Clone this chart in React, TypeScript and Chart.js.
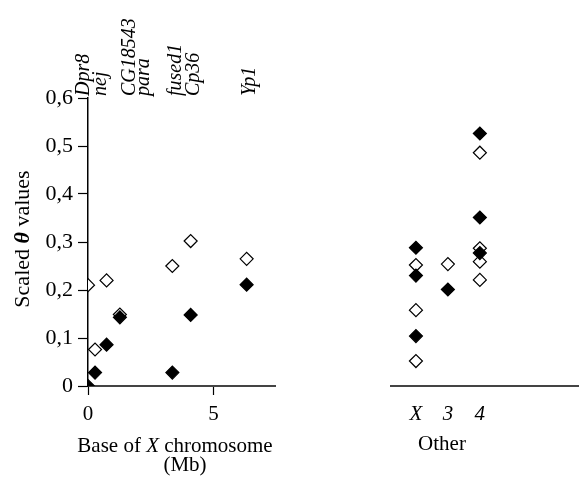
import React, { useEffect, useRef } from "react";
import { Chart, registerables } from "chart.js";

Chart.register(...registerables);

const FONT = "'Liberation Serif', 'Times New Roman', serif";
const W = 586;
const H = 477;

// ---- Left panel: base of X chromosome (Mb) ----
const basePositions = [0, 0.28, 0.74, 1.27, 3.36, 4.09, 6.32];
const baseOpen = [0.21, 0.076, 0.22, 0.149, 0.25, 0.302, 0.265];
const baseFilled = [0, 0.028, 0.086, 0.143, 0.028, 0.148, 0.211];

const geneNames = ["Dpr8", "nej", "CG18543", "para", "fused1", "Cp36", "Yp1"];
const geneLabelPos = [0.03, 0.72, 1.86, 2.42, 3.72, 4.42, 6.64];

const baseTicks = [0, 5];
const yTicks = [0, 0.1, 0.2, 0.3, 0.4, 0.5, 0.6];

// ---- Right panel: other chromosomes ----
const otherCategories = ["X", "3", "4"];
const otherOpen = [
  [0.252, 0.158, 0.052],
  [0.254],
  [0.486, 0.287, 0.259, 0.221],
];
const otherFilled = [
  [0.288, 0.23, 0.104],
  [0.201],
  [0.526, 0.351, 0.277],
];

const fmtY = (v: number) => (v === 0 ? "0" : v.toFixed(1).replace(".", ","));

type Part = { t: string; font: string };

function drawRich(ctx: CanvasRenderingContext2D, parts: Part[], cx: number, cy: number) {
  let total = 0;
  const widths = parts.map((p) => {
    ctx.font = p.font;
    const w = ctx.measureText(p.t).width;
    total += w;
    return w;
  });
  let x = cx - total / 2;
  ctx.textAlign = "left";
  ctx.textBaseline = "alphabetic";
  parts.forEach((p, i) => {
    ctx.font = p.font;
    ctx.fillText(p.t, x, cy);
    x += widths[i];
  });
}

const reg = (s: number) => `${s}px ${FONT}`;
const ita = (s: number) => `italic ${s}px ${FONT}`;
const bita = (s: number) => `italic bold ${s}px ${FONT}`;

const leftTextPlugin = {
  id: "leftText",
  afterDraw(chart: any) {
    const ctx: CanvasRenderingContext2D = chart.ctx;
    const xs = chart.scales.x;
    ctx.save();
    ctx.fillStyle = "#000";
    // y title
    ctx.save();
    ctx.translate(29, 239);
    ctx.rotate(-Math.PI / 2);
    drawRich(
      ctx,
      [
        { t: "Scaled ", font: reg(22) },
        { t: "\u03b8", font: bita(22) },
        { t: " values", font: reg(22) },
      ],
      0,
      0
    );
    ctx.restore();
    // x title
    const cx = 175;
    drawRich(
      ctx,
      [
        { t: "Base of ", font: reg(21) },
        { t: "X", font: ita(21) },
        { t: " chromosome", font: reg(21) },
      ],
      cx,
      452
    );
    drawRich(ctx, [{ t: "(Mb)", font: reg(21) }], 185, 471);
    // gene labels
    ctx.font = ita(20);
    ctx.textAlign = "left";
    ctx.textBaseline = "alphabetic";
    geneNames.forEach((g, i) => {
      const px = xs.getPixelForValue(geneLabelPos[i]);
      ctx.save();
      ctx.translate(px, 96);
      ctx.rotate(-Math.PI / 2);
      ctx.fillText(g, 0, 0);
      ctx.restore();
    });
    ctx.restore();
  },
};

const rightTextPlugin = {
  id: "rightText",
  afterDraw(chart: any) {
    const ctx: CanvasRenderingContext2D = chart.ctx;
    ctx.save();
    ctx.fillStyle = "#000";
    drawRich(ctx, [{ t: "Other", font: reg(21) }], 442, 450);
    ctx.restore();
  },
};

const filledStyle = {
  pointStyle: "rectRot",
  pointRadius: 6.5,
  backgroundColor: "#000",
  borderColor: "#000",
  borderWidth: 1.2,
};
const openStyle = {
  pointStyle: "rectRot",
  pointRadius: 6.5,
  backgroundColor: "#fff",
  borderColor: "#000",
  borderWidth: 1.2,
};

export default function App() {
  const leftRef = useRef<HTMLCanvasElement>(null);
  const rightRef = useRef<HTMLCanvasElement>(null);

  useEffect(() => {
    const left = new Chart(leftRef.current as HTMLCanvasElement, {
      type: "scatter",
      data: {
        datasets: [
          {
            label: "filled",
            data: basePositions.map((x, i) => ({ x, y: baseFilled[i] })),
            ...filledStyle,
          } as any,
          {
            label: "open",
            data: basePositions.map((x, i) => ({ x, y: baseOpen[i] })),
            ...openStyle,
          } as any,
        ],
      },
      options: {
        responsive: false,
        animation: false,
        layout: { padding: { top: 98, right: W - 275, left: 0, bottom: 0 } },
        plugins: { legend: { display: false }, tooltip: { enabled: false } },
        scales: {
          x: {
            type: "linear",
            min: 0,
            max: 7.45,
            afterBuildTicks: (s: any) => {
              s.ticks = baseTicks.map((v) => ({ value: v }));
            },
            afterFit: (s: any) => {
              s.height = H - 386;
            },
            ticks: {
              font: { family: FONT, size: 21 },
              color: "#000",
              padding: 7,
              maxRotation: 0,
            },
            grid: {
              drawOnChartArea: false,
              tickLength: 9,
              tickColor: "#000",
              tickWidth: 1.2,
            },
            border: { color: "#444", width: 2 },
          },
          y: {
            type: "linear",
            min: 0,
            max: 0.6,
            afterBuildTicks: (s: any) => {
              s.ticks = yTicks.map((v) => ({ value: v }));
            },
            afterFit: (s: any) => {
              s.width = 88;
            },
            ticks: {
              font: { family: FONT, size: 22 },
              color: "#000",
              padding: 5,
              callback: (v: any) => fmtY(Number(v)),
            },
            grid: {
              drawOnChartArea: false,
              tickLength: 10,
              tickColor: "#000",
              tickWidth: 1.2,
            },
            border: { color: "#000", width: 1.5 },
          },
        },
      },
      plugins: [leftTextPlugin],
    } as any);

    const oFilled: { x: number; y: number }[] = [];
    const oOpen: { x: number; y: number }[] = [];
    otherCategories.forEach((_, ci) => {
      otherFilled[ci].forEach((y) => oFilled.push({ x: ci + 1, y }));
      otherOpen[ci].forEach((y) => oOpen.push({ x: ci + 1, y }));
    });

    const right = new Chart(rightRef.current as HTMLCanvasElement, {
      type: "scatter",
      data: {
        datasets: [
          { label: "filled", data: oFilled, ...filledStyle } as any,
          { label: "open", data: oOpen, ...openStyle } as any,
        ],
      },
      options: {
        responsive: false,
        animation: false,
        layout: { padding: { top: 98, right: 0, left: 391, bottom: 0 } },
        plugins: { legend: { display: false }, tooltip: { enabled: false } },
        scales: {
          x: {
            type: "linear",
            min: 0.22,
            max: 6.08,
            afterBuildTicks: (s: any) => {
              s.ticks = otherCategories.map((_, i) => ({ value: i + 1 }));
            },
            afterFit: (s: any) => {
              s.height = H - 386;
            },
            ticks: {
              font: { family: FONT, size: 21, style: "italic" },
              color: "#000",
              padding: 7,
              maxRotation: 0,
              callback: (v: any) => otherCategories[Number(v) - 1] ?? "",
            },
            grid: {
              drawOnChartArea: false,
              tickLength: 9,
              tickColor: "rgba(0,0,0,0)",
            },
            border: { color: "#444", width: 2 },
          },
          y: {
            type: "linear",
            min: 0,
            max: 0.6,
            display: false,
          },
        },
      },
      plugins: [rightTextPlugin],
    } as any);

    return () => {
      left.destroy();
      right.destroy();
    };
  }, []);

  return (
    <div
      style={{
        position: "fixed",
        left: 0,
        top: 0,
        width: W,
        height: H,
        background: "#fff",
      }}
    >
      <canvas
        ref={leftRef}
        width={W}
        height={H}
        style={{ position: "absolute", left: 0, top: 0, width: W, height: H }}
      />
      <canvas
        ref={rightRef}
        width={W}
        height={H}
        style={{ position: "absolute", left: 0, top: 0, width: W, height: H }}
      />
    </div>
  );
}
